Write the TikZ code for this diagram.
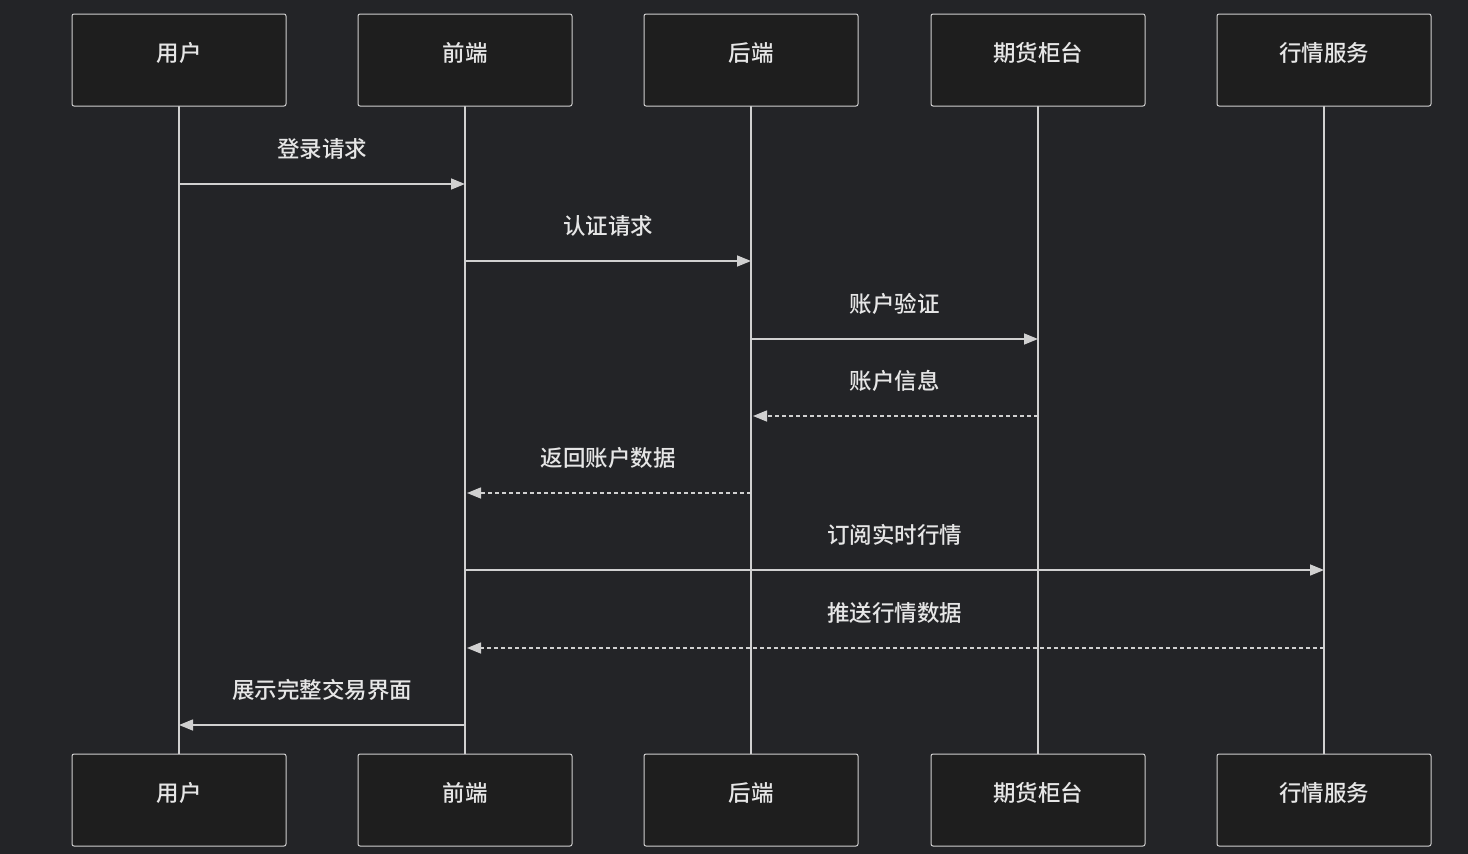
\documentclass[tikz,border=0pt]{standalone}
\usepackage{fontspec}
\setmainfont{Noto Sans CJK SC}[BoldFont={Noto Sans CJK SC Medium}]
\usetikzlibrary{arrows.meta}
\definecolor{bg}{HTML}{232427}
\definecolor{boxfill}{HTML}{1E1E1E}
\definecolor{ln}{HTML}{D0D0D0}
\definecolor{tx}{HTML}{E6E6E6}
\begin{document}
\begin{tikzpicture}[x=1pt,y=-1pt,
  actor/.style={draw=ln,line width=1pt,fill=boxfill,rounded corners=2pt,minimum width=214pt,minimum height=92pt},
  life/.style={draw=ln,line width=1.6pt},
  msg/.style={draw=ln,line width=1.5pt,-{Triangle[length=14pt,width=11pt]}},
  rep/.style={msg,dash pattern=on 4pt off 3pt},
  lab/.style={text=tx,font=\fontsize{22.5}{26}\bfseries,anchor=base,inner sep=0pt}]
\fill[bg] (0,0) rectangle (1468,854);
\useasboundingbox (0,0) rectangle (1468,854);
\foreach \n/\x/\t in {u/179/用户,f/465/前端,b/751/后端,q/1038/期货柜台,m/1324/行情服务}{
  \draw[life] (\x,106) -- (\x,754);
  \node[actor] (\n t) at (\x,60) {};
  \node[lab] at (\x,61) {\t};
  \node[actor] (\n b) at (\x,800) {};
  \node[lab] at (\x,801) {\t};
}
\foreach \n/\x in {u/179,f/465,b/751,q/1038,m/1324}{
  \foreach \y in {184,261,339,416,493,570,648,725}{\coordinate (\n\y) at (\x,\y);}}
\tikzset{ml/.style={lab,midway,yshift=27pt}}
\draw[msg] (u184) -- (f184) node[ml] {登录请求};
\draw[msg] (f261) -- (b261) node[ml] {认证请求};
\draw[msg] (b339) -- (q339) node[ml] {账户验证};
\draw[rep,shorten >=2pt] (q416) -- (b416) node[ml] {账户信息};
\draw[rep,shorten >=2pt] (b493) -- (f493) node[ml] {返回账户数据};
\draw[msg] (f570) -- (m570) node[ml] {订阅实时行情};
\draw[rep,shorten >=2pt] (m648) -- (f648) node[ml] {推送行情数据};
\draw[msg] (f725) -- (u725) node[ml] {展示完整交易界面};
\end{tikzpicture}
\end{document}
